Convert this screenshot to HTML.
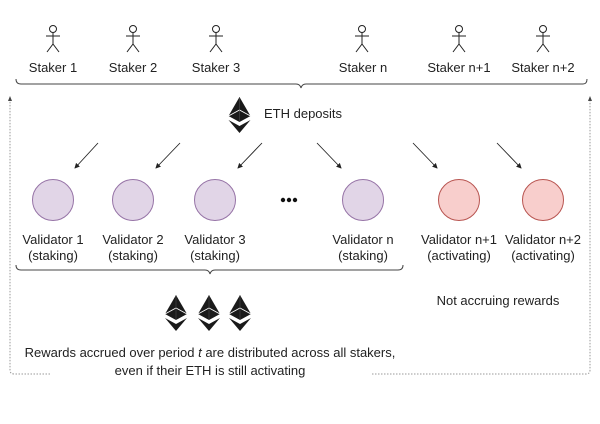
<!DOCTYPE html>
<html><head><style>body{margin:0;background:#fff}svg{display:block}text{font-family:"Liberation Sans",Arial,sans-serif;font-size:13px;fill:#222}</style></head><body>
<svg width="600" height="424" viewBox="0 0 600 424" xmlns="http://www.w3.org/2000/svg">
<defs>
<g id="eth">
<polygon points="0,-18 11,1 0,7 -11,1" fill="#1a1a1a"/>
<polyline points="-11,1 0,-5 11,1" fill="none" stroke="#fff" stroke-width="0.8"/>
<line x1="0" y1="-18" x2="0" y2="7" stroke="#555" stroke-width="0.5"/>
<polygon points="-11,5 0,11 11,5 0,18" fill="#1a1a1a"/>
</g>
<g id="p" fill="none" stroke="#222" stroke-width="1">
<circle cx="0" cy="-11" r="3.5"/>
<line x1="0" y1="-7.5" x2="0" y2="4"/>
<line x1="-7" y1="-4" x2="7" y2="-4"/>
<line x1="0" y1="4" x2="-6" y2="12"/>
<line x1="0" y1="4" x2="6" y2="12"/>
</g>
<marker id="a" markerWidth="6" markerHeight="6" refX="5" refY="3" orient="auto"><path d="M0,0 L6,3 L0,6z" fill="#222"/></marker>
</defs>
<use href="#p" x="53" y="40"/><use href="#p" x="133" y="40"/><use href="#p" x="216" y="40"/>
<use href="#p" x="362" y="40"/><use href="#p" x="459" y="40"/><use href="#p" x="543" y="40"/>
<g text-anchor="middle">
<text x="53" y="72">Staker 1</text><text x="133" y="72">Staker 2</text><text x="216" y="72">Staker 3</text>
<text x="363" y="72">Staker n</text><text x="459" y="72">Staker n+1</text><text x="543" y="72">Staker n+2</text>
</g>
<path d="M16,79 Q16,84 21,84 L296,84 Q300,84 301,88 Q302,84 306,84 L583,84 Q587,84 587,79" fill="none" stroke="#444" stroke-width="1"/>
<use href="#eth" x="239.5" y="115"/>
<text x="264" y="118">ETH deposits</text>
<g stroke="#222" stroke-width="0.9" marker-end="url(#a)">
<line x1="98" y1="143" x2="75" y2="168"/><line x1="180" y1="143" x2="156" y2="168"/><line x1="262" y1="143" x2="238" y2="168"/>
<line x1="317" y1="143" x2="341" y2="168"/><line x1="413" y1="143" x2="437" y2="168"/><line x1="497" y1="143" x2="521" y2="168"/>
</g>
<g stroke-width="1">
<circle cx="53" cy="200" r="20.5" fill="#e1d5e7" stroke="#9673a6"/>
<circle cx="133" cy="200" r="20.5" fill="#e1d5e7" stroke="#9673a6"/>
<circle cx="215" cy="200" r="20.5" fill="#e1d5e7" stroke="#9673a6"/>
<circle cx="363" cy="200" r="20.5" fill="#e1d5e7" stroke="#9673a6"/>
<circle cx="459" cy="200" r="20.5" fill="#f8cecc" stroke="#b85450"/>
<circle cx="543" cy="200" r="20.5" fill="#f8cecc" stroke="#b85450"/>
</g>
<g fill="#111"><circle cx="283" cy="200" r="2.2"/><circle cx="289" cy="200" r="2.2"/><circle cx="295" cy="200" r="2.2"/></g>
<g text-anchor="middle">
<text x="53" y="244">Validator 1</text><text x="53" y="260">(staking)</text>
<text x="133" y="244">Validator 2</text><text x="133" y="260">(staking)</text>
<text x="215" y="244">Validator 3</text><text x="215" y="260">(staking)</text>
<text x="363" y="244">Validator n</text><text x="363" y="260">(staking)</text>
<text x="459" y="244">Validator n+1</text><text x="459" y="260">(activating)</text>
<text x="543" y="244">Validator n+2</text><text x="543" y="260">(activating)</text>
</g>
<path d="M16,265 Q16,270 21,270 L205,270 Q209,270 210,274 Q211,270 215,270 L398,270 Q403,270 403,265" fill="none" stroke="#444" stroke-width="1"/>
<use href="#eth" x="176" y="313"/><use href="#eth" x="209" y="313"/><use href="#eth" x="240" y="313"/>
<text x="498" y="305" text-anchor="middle">Not accruing rewards</text>
<text x="210" y="357" text-anchor="middle">Rewards accrued over period <tspan font-style="italic">t</tspan> are distributed across all stakers,</text>
<text x="210" y="375" text-anchor="middle">even if their ETH is still activating</text>
<path d="M50,374 L14,374 Q10,374 10,370 L10,100" fill="none" stroke="#999" stroke-width="1" stroke-dasharray="1.5,1.5"/>
<path d="M372,374 L586,374 Q590,374 590,370 L590,100" fill="none" stroke="#999" stroke-width="1" stroke-dasharray="1.5,1.5"/>
<path d="M8,101 L10,96 L12,101z M588,101 L590,96 L592,101z" fill="#444"/>
</svg>
</body></html>
